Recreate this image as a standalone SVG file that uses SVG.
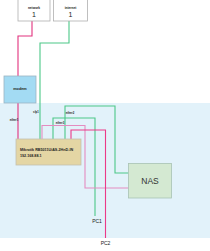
<svg xmlns="http://www.w3.org/2000/svg" width="210" height="251" viewBox="0 0 210 251">
<style>
text{font-family:"Liberation Sans",Arial,sans-serif;fill:#222}
.box{stroke:#b0b0b0;stroke-width:0.8}
.w{fill:none;stroke-width:1.1}
.pk{stroke:#e2327e}
.gr{stroke:#4cc888}
.lp{stroke:#e48cc0}
.dp{stroke:#ec3a88}
.lbl{font-size:2.8px;text-anchor:middle;font-weight:bold}
.sm{font-weight:bold}
</style>
<rect x="0" y="103" width="210" height="135" fill="#e2f2fa"/>
<g id="connectors">
<path class="w pk" d="M32,21 V36 H18 V76"/>
<path class="w pk" d="M18,103 V139"/>
<path class="w gr" d="M69,21 V43 H40 V139"/>
<path class="w gr" d="M65,139 V106 H115 V173 H128.5"/>
<path class="w gr" d="M53,139 V118 H95 V216"/>
<path class="w lp" d="M42,139 V125.5 H85 V188 H128.5"/>
<path class="w dp" d="M71,139 V130 H105.5 V238"/>
<text class="lbl" x="14" y="121">ether1</text>
<text class="lbl" x="36" y="113">sfp1</text>
<text class="lbl" x="70" y="114">ether2</text>
<text class="lbl" x="60" y="124">ether3</text>
</g>
<g id="network">
<rect class="box" x="18" y="-1" width="32" height="22" fill="#fff"/>
<text class="sm" x="34" y="9" font-size="3.2" text-anchor="middle">network</text>
<text x="34" y="17" font-size="7" text-anchor="middle">1</text>
</g>
<g id="internet">
<rect class="box" x="53.5" y="-1" width="34" height="22" fill="#fff"/>
<text class="sm" x="70.5" y="9" font-size="3.2" text-anchor="middle">internet</text>
<text x="70.5" y="17" font-size="7" text-anchor="middle">1</text>
</g>
<g id="modem">
<rect x="4" y="76" width="32" height="27" fill="#a3dbf3" stroke="#9bb4c2" stroke-width="0.8"/>
<text class="sm" x="20" y="90" font-size="3.8" text-anchor="middle">modem</text>
</g>
<g id="mikrotik">
<rect x="16" y="139" width="65" height="26" fill="#e4d6a4" stroke="#c4c0b0" stroke-width="0.8"/>
<text class="sm" x="20" y="151" font-size="3.7">Mikrotik RB5011UiAS-2HnD-IN</text>
<text class="sm" x="20" y="156.5" font-size="3.7">192.168.88.1</text>
</g>
<g id="nas">
<rect x="128.5" y="163.5" width="43" height="34.5" fill="#d4e9d2" stroke="#a9c2b4" stroke-width="0.8"/>
<text x="150" y="184" font-size="8.5" text-anchor="middle" style="fill:#333">NAS</text>
</g>
<g id="pc1"><text x="97" y="223" font-size="5" text-anchor="middle">PC1</text></g>
<g id="pc2"><text x="105.5" y="245" font-size="5" text-anchor="middle">PC2</text></g>
</svg>
